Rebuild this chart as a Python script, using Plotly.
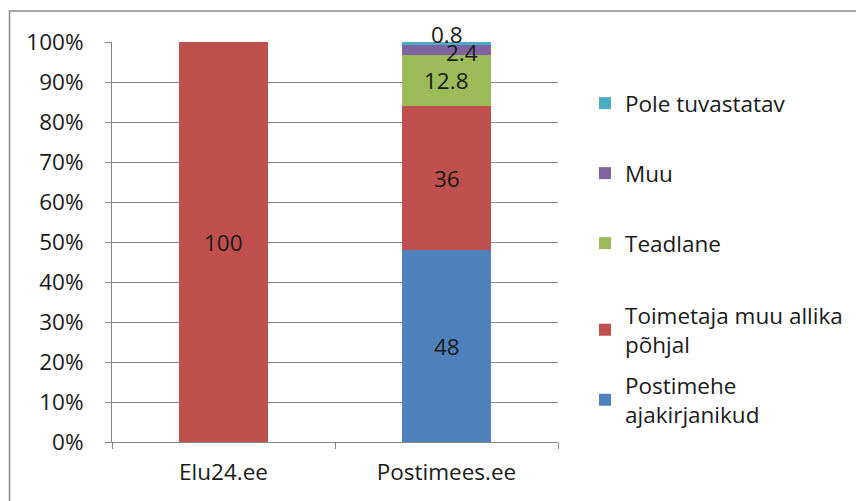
import plotly.graph_objects as go

categories = ["Elu24.ee", "Postimees.ee"]
series_names = [
    "Postimehe<br>ajakirjanikud",
    "Toimetaja muu allika<br>põhjal",
    "Teadlane",
    "Muu",
    "Pole tuvastatav",
]
series_values = [
    [0, 48],
    [100, 36],
    [0, 12.8],
    [0, 2.4],
    [0, 0.8],
]
series_colors = ["#4F81BD", "#C0504D", "#9BBB59", "#8064A2", "#4BACC6"]
y_ticks = [0, 10, 20, 30, 40, 50, 60, 70, 80, 90, 100]
y_tick_labels = [f"{v}%" for v in y_ticks]

FONT = "Open Sans"
FS = 22.5
TXT = "#1a1a1a"
OFF = 8  # page body margin
W, H = 864 - OFF, 501 - OFF
# plot area in screen pixels: x 112..558, y 42..442
L, R, T, B = 112 - OFF, 864 - 558, 42 - OFF, 501 - 442
pw, ph = W - L - R, H - T - B

def px_x(sx):
    return (sx - OFF - L) / pw

def px_y(sy):
    return (H - B - (sy - OFF)) / ph

# legend first-line centers (screen px) for each series
legend_first_line_px = [385, 315, 243, 173, 103]

fig = go.Figure()
for i, (name, vals, col) in enumerate(zip(series_names, series_values, series_colors)):
    lg = "legend" if i == 0 else f"legend{i+1}"
    fig.add_trace(go.Bar(
        x=categories, y=vals, name=name, marker_color=col,
        marker_line_width=0, legend=lg, showlegend=True,
    ))

# data labels
annotations = []
for ci, cat in enumerate(categories):
    cum = 0
    for si, vals in enumerate(series_values):
        v = vals[ci]
        if v > 0:
            mid = cum + v / 2
            yshift, xshift = 0, 0
            if v < 1:
                yshift = 9
            elif v < 5:
                yshift, xshift = -2, 15
            annotations.append(dict(
                x=cat, y=mid, text=f"{v:g}", showarrow=False,
                font=dict(family=FONT, size=FS, color=TXT),
                yshift=yshift, xshift=xshift,
            ))
        cum += v

legends = {}
for i in range(len(series_names)):
    key = "legend" if i == 0 else f"legend{i+1}"
    legends[key] = dict(
        x=px_x(585), xanchor="left",
        y=px_y(legend_first_line_px[i] - 21), yanchor="top",
        bgcolor="rgba(0,0,0,0)",
        font=dict(family=FONT, size=FS, color=TXT),
        itemsizing="constant", itemwidth=30,
    )

fig.update_layout(
    width=W, height=H,
    margin=dict(l=L, r=R, t=T, b=B, autoexpand=False),
    barmode="stack", bargap=0.6,
    plot_bgcolor="white", paper_bgcolor="white",
    font=dict(family=FONT, size=FS, color=TXT),
    annotations=annotations,
    shapes=[dict(
        type="rect", xref="paper", yref="paper",
        x0=px_x(9.5), x1=3, y0=-1, y1=px_y(11),
        line=dict(color="#8a8a8a", width=1.5), layer="below",
    )],
    **legends,
)
fig.update_yaxes(
    range=[0, 100], tickvals=y_ticks, ticktext=y_tick_labels,
    showgrid=True, gridcolor="#868686", gridwidth=1,
    showline=True, linecolor="#868686", linewidth=1,
    ticks="outside", ticklen=6, tickcolor="#868686",
    ticklabelstandoff=17, zeroline=False,
    tickfont=dict(family=FONT, size=FS, color=TXT),
)
fig.update_xaxes(
    showline=True, linecolor="#868686", linewidth=1,
    ticks="outside", ticklen=6, tickcolor="#868686", tickson="boundaries",
    ticklabelstandoff=10,
    tickfont=dict(family=FONT, size=FS, color=TXT),
)

fig.write_html("out.html")
